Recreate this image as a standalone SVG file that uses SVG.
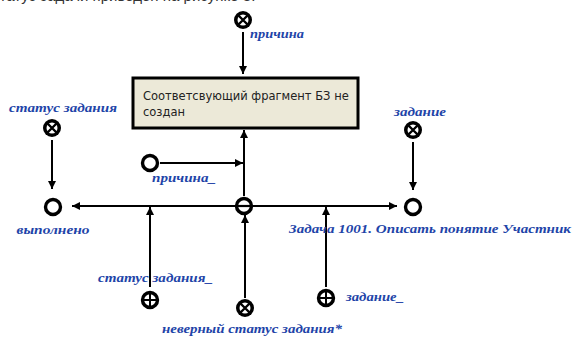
<svg xmlns="http://www.w3.org/2000/svg" width="574" height="340" viewBox="0 0 574 340">
<style>
.lbl{font-family:"Liberation Serif","DejaVu Serif",serif;font-weight:bold;font-style:italic;font-size:13px;fill:#1e44a8}
.box{fill:#ece9d8;stroke:#000;stroke-width:3}
.btxt{font-family:"DejaVu Sans","Liberation Sans",sans-serif;font-size:11.5px;fill:#222}
.edge{stroke:#000;stroke-width:2;fill:none}
.ring{fill:#fff;stroke:#000;stroke-width:3.4}
.top{font-family:"Liberation Sans",sans-serif;font-size:15px;fill:#333}
</style>
<defs>
<marker id="ah" viewBox="0 0 10 10" refX="10" refY="5" markerWidth="8" markerHeight="8" markerUnits="userSpaceOnUse" orient="auto">
<path d="M0,0 L10,5 L0,10 z" fill="#000"/>
</marker>
<g id="xsym">
<circle r="9" fill="#000"/>
<circle r="5.5" fill="#fff"/>
<path d="M-5,-5 L5,5 M5,-5 L-5,5" stroke="#000" stroke-width="2.4"/>
</g>
<g id="psym">
<circle r="7.5" class="ring"/>
<path d="M-7,0 H7 M0,-7 V7" stroke="#000" stroke-width="2"/>
</g>
</defs>
<rect width="574" height="340" fill="#fff"/>
<text class="top" x="-8" y="0.5">статус задачи приведен на рисунке 3.</text>

<g id="connectors">
<path class="edge" d="M243,32 V74" marker-end="url(#ah)"/>
<path class="edge" d="M244,196 V130" marker-end="url(#ah)"/>
<path class="edge" d="M160,163 H243" marker-end="url(#ah)"/>
<path class="edge" d="M235,206 H72" marker-end="url(#ah)"/>
<path class="edge" d="M253,206 H397" marker-end="url(#ah)"/>
<path class="edge" d="M52,140 V189" marker-end="url(#ah)"/>
<path class="edge" d="M413,142 V190" marker-end="url(#ah)"/>
<path class="edge" d="M150,287 V207" marker-end="url(#ah)"/>
<path class="edge" d="M245,298 V215" marker-end="url(#ah)"/>
<path class="edge" d="M326,287 V207" marker-end="url(#ah)"/>
</g>

<g id="node-prichina">
<use href="#xsym" x="243" y="20"/>
<text class="lbl" x="250" y="38" textLength="54" lengthAdjust="spacingAndGlyphs">причина</text>
</g>
<g id="node-box">
<rect class="box" x="133" y="78" width="225" height="50"/>
<text class="btxt" x="143" y="100">Соответсвующий фрагмент БЗ не</text>
<text class="btxt" x="143" y="116">создан</text>
</g>
<g id="node-center">
<circle cx="244" cy="206" r="7.5" class="ring"/>
<path d="M237,206 H251" stroke="#000" stroke-width="2.2"/>
</g>
<g id="node-prichina2">
<circle cx="150" cy="163" r="7.5" class="ring"/>
<text class="lbl" x="152" y="182" textLength="64" lengthAdjust="spacingAndGlyphs">причина_</text>
</g>
<g id="node-status">
<use href="#xsym" x="52" y="128"/>
<text class="lbl" x="63" y="112" text-anchor="middle" textLength="108" lengthAdjust="spacingAndGlyphs">статус задания</text>
</g>
<g id="node-done">
<circle cx="53" cy="207" r="7.5" class="ring"/>
<text class="lbl" x="53" y="234" text-anchor="middle" textLength="73" lengthAdjust="spacingAndGlyphs">выполнено</text>
</g>
<g id="node-zadanie">
<use href="#xsym" x="413" y="130"/>
<text class="lbl" x="420" y="116" text-anchor="middle" textLength="52" lengthAdjust="spacingAndGlyphs">задание</text>
</g>
<g id="node-task">
<circle cx="413" cy="207" r="7.5" class="ring"/>
<text class="lbl" x="289" y="233" textLength="282" lengthAdjust="spacingAndGlyphs">Задача 1001. Описать понятие Участник</text>
</g>
<g id="node-status2">
<use href="#psym" x="150" y="300"/>
<text class="lbl" x="98" y="282" textLength="115" lengthAdjust="spacingAndGlyphs">статус задания_</text>
</g>
<g id="node-wrong">
<use href="#xsym" x="245" y="308"/>
<text class="lbl" x="162" y="333" textLength="180" lengthAdjust="spacingAndGlyphs">неверный статус задания*</text>
</g>
<g id="node-zadanie2">
<use href="#psym" x="326" y="298"/>
<text class="lbl" x="346" y="301" textLength="58" lengthAdjust="spacingAndGlyphs">задание_</text>
</g>
</svg>
